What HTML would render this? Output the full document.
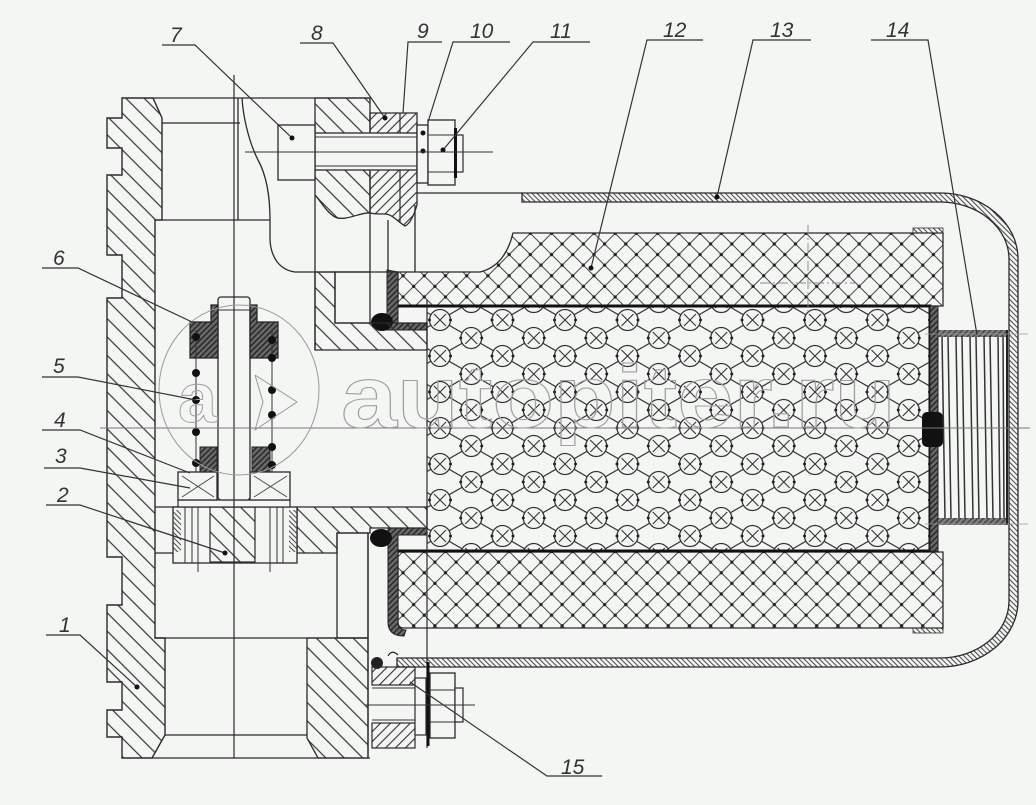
<!DOCTYPE html>
<html><head><meta charset="utf-8">
<style>
html,body{margin:0;padding:0;background:#f3f6f3;}
svg{display:block;}
text{font-family:"Liberation Sans",sans-serif;}
</style></head><body>
<svg width="1036" height="805" viewBox="0 0 1036 805" xmlns="http://www.w3.org/2000/svg">
<defs>
<pattern id="h1" width="13" height="13" patternUnits="userSpaceOnUse" patternTransform="rotate(-45)"><line x1="6.5" y1="0" x2="6.5" y2="13" stroke="#333" stroke-width="1.2"/></pattern>
<pattern id="h2" width="7" height="7" patternUnits="userSpaceOnUse" patternTransform="rotate(45)"><line x1="3.5" y1="0" x2="3.5" y2="7" stroke="#333" stroke-width="1.1"/></pattern>
<pattern id="h3" width="3.6" height="3.6" patternUnits="userSpaceOnUse" patternTransform="rotate(-45)"><line x1="1.8" y1="0" x2="1.8" y2="3.6" stroke="#444" stroke-width="1"/></pattern>
<pattern id="ch" width="15" height="15" patternUnits="userSpaceOnUse" patternTransform="rotate(45)"><path d="M0,0V15M15,0V15M0,0H15M0,15H15" stroke="#444" stroke-width="1"/><circle cx="0" cy="0" r="1.6" fill="#222"/><circle cx="15" cy="0" r="1.6" fill="#222"/><circle cx="0" cy="15" r="1.6" fill="#222"/><circle cx="15" cy="15" r="1.6" fill="#222"/></pattern>
<pattern id="dk" width="4" height="4" patternUnits="userSpaceOnUse" patternTransform="rotate(45)"><rect width="4" height="4" fill="#6a6a6a"/><line x1="2" y1="0" x2="2" y2="4" stroke="#222" stroke-width="1.4"/></pattern>
<pattern id="cg" x="440" y="320" width="62.5" height="36" patternUnits="userSpaceOnUse">
 <g stroke="#333" stroke-width="1.2" fill="none">
  <path d="M0,0L31.25,18M62.5,0L31.25,18M0,36L31.25,18M62.5,36L31.25,18"/>
 </g>
 <g stroke="#333" stroke-width="1.3" fill="#f3f6f3">
  <circle cx="0" cy="0" r="10.5"/><circle cx="62.5" cy="0" r="10.5"/><circle cx="0" cy="36" r="10.5"/><circle cx="62.5" cy="36" r="10.5"/><circle cx="31.25" cy="18" r="10.5"/>
 </g>
 <g stroke="#333" stroke-width="1.1">
  <path d="M-6,-6L6,6M-6,6L6,-6 M56.5,-6L68.5,6M56.5,6L68.5,-6 M-6,30L6,42M-6,42L6,30 M56.5,30L68.5,42M56.5,42L68.5,30 M25.25,12L37.25,24M25.25,24L37.25,12"/>
 </g>
 <g fill="#222"><circle cx="10.5" cy="0" r="1.5"/><circle cx="52" cy="0" r="1.5"/><circle cx="41.75" cy="18" r="1.5"/><circle cx="20.75" cy="18" r="1.5"/><circle cx="10.5" cy="36" r="1.5"/><circle cx="52" cy="36" r="1.5"/></g>
</pattern>
</defs>

<rect width="1036" height="805" fill="#f3f6f3"/>

<!-- ===== Canister shell (13) ===== -->
<path d="M522,193 L940,193 A78,66 0 0 1 1018,259 L1018,601 A78,66 0 0 1 940,667 L397,667 L397,658 L940,658 A69,57 0 0 0 1009,601 L1009,259 A69,57 0 0 0 940,202 L522,202 Z" fill="url(#h3)" stroke="#2a2a2a" stroke-width="1.3"/>

<!-- ===== Filter crosshatch blocks (12) ===== -->
<path d="M398,272 L480,272 Q505,266 513,233 L943,233 L943,306 L398,306 Z" fill="url(#ch)" stroke="#2a2a2a" stroke-width="1.3"/>
<path d="M398,552 L943,552 L943,628 L404,628 Q398,628 398,622 Z" fill="url(#ch)" stroke="#2a2a2a" stroke-width="1.3"/>
<rect x="913" y="228" width="30" height="5" fill="url(#h3)" stroke="#333" stroke-width="0.8"/>
<rect x="913" y="628" width="30" height="5" fill="url(#h3)" stroke="#333" stroke-width="0.8"/>

<!-- ===== Perforated tube (circles) ===== -->
<rect x="427" y="306" width="503" height="245" fill="url(#cg)"/>
<path d="M398,306 H930 V551 H398" fill="none" stroke="#111" stroke-width="3"/>
<rect x="930" y="306" width="8" height="245" fill="url(#dk)" stroke="#222" stroke-width="1"/>
<rect x="922" y="412" width="21" height="35" rx="5" fill="#111"/>

<!-- end caps -->
<path d="M387,270 V330 H427 V323 H398 V272 Z" fill="url(#dk)" stroke="#222" stroke-width="1"/>
<ellipse cx="382" cy="322" rx="11" ry="9" fill="#111"/>
<path d="M388,528 H427 V535 H398 V622 Q398,630 406,630 L404,636 Q388,636 388,622 Z" fill="url(#dk)" stroke="#222" stroke-width="1"/>
<ellipse cx="381" cy="538" rx="11" ry="9" fill="#111"/>

<!-- ===== Spring 14 ===== -->
<g fill="none" stroke="#333" stroke-width="1.5">
<path d="M942,336 L945,519 M948,336 L951,519"/>
<path d="M956,336 L959,519 M962,336 L965,519"/>
<path d="M970,336 L973,519 M976,336 L979,519"/>
<path d="M984,336 L987,519 M990,336 L993,519"/>
<path d="M998,336 L1000,519 M1003,336 L1004,519"/>
</g>
<rect x="938" y="330" width="70" height="7" fill="url(#dk)" opacity="0.85"/>
<rect x="938" y="518" width="70" height="7" fill="url(#dk)" opacity="0.85"/>
<line x1="1007" y1="330" x2="1007" y2="525" stroke="#222" stroke-width="2"/>
<line x1="925" y1="334" x2="1028" y2="334" stroke="#999" stroke-width="0.8"/>
<line x1="925" y1="524" x2="1028" y2="524" stroke="#999" stroke-width="0.8"/>

<!-- ===== Housing (1) ===== -->
<path d="M122,98 V118 H107 V148 H122 V175 H107 V255 H122 V298 H107 V557 H122 V605 H107 V682 H122 V710 H107 V737 H122 V758 H152 L165,735 V638 H155 V220 H162 V118 L153,98 Z" fill="url(#h1)" stroke="#2a2a2a" stroke-width="1.4"/>
<g stroke="#2a2a2a" stroke-width="1.3" fill="none">
<line x1="153" y1="98" x2="370" y2="98"/>
<line x1="162" y1="123" x2="240" y2="123"/>
<line x1="162" y1="220" x2="270" y2="220"/>
<line x1="238" y1="98" x2="238" y2="220"/>
<path d="M242,98 C243,115 248,140 258,160 C268,178 270,200 270,220 L270,240 C271,258 280,270 295,272 L398,272"/>
</g>

<!-- flange + bolt 7, parts 8-11 -->
<path d="M315,98 H370 V213 C360,212 345,222 335,217 C326,212 320,200 315,195 Z" fill="url(#h1)" stroke="#2a2a2a" stroke-width="1.3"/>
<path d="M370,113 H417 V205 C414,215 410,224 405,226 C398,222 392,214 385,214 C378,214 374,214 370,213 Z" fill="url(#h2)" stroke="#2a2a2a" stroke-width="1.3"/>
<line x1="400" y1="113" x2="400" y2="222" stroke="#2a2a2a" stroke-width="1.2"/>
<rect x="315" y="133" width="102" height="37" fill="#f3f6f3" stroke="#2a2a2a" stroke-width="1.3"/>
<line x1="315" y1="137" x2="417" y2="137" stroke="#333" stroke-width="1"/>
<line x1="315" y1="166" x2="417" y2="166" stroke="#333" stroke-width="1"/>
<rect x="278" y="125" width="37" height="55" fill="#f3f6f3" stroke="#2a2a2a" stroke-width="1.3"/>
<rect x="417" y="125" width="11" height="58" fill="#f3f6f3" stroke="#2a2a2a" stroke-width="1.3"/>
<rect x="428" y="120" width="27" height="65" fill="#f3f6f3" stroke="#2a2a2a" stroke-width="1.3"/>
<line x1="428" y1="135" x2="455" y2="135" stroke="#333"/>
<line x1="428" y1="172" x2="455" y2="172" stroke="#333"/>
<rect x="455" y="135" width="8" height="37" fill="#f3f6f3" stroke="#2a2a2a" stroke-width="1.2"/>
<rect x="454" y="128" width="3" height="50" fill="#111"/>
<circle cx="423" cy="133" r="2.5" fill="#111"/><circle cx="423" cy="151" r="2.5" fill="#111"/>
<line x1="245" y1="152" x2="493" y2="152" stroke="#333" stroke-width="1"/>

<g stroke="#2a2a2a" stroke-width="1.3" fill="none">
<line x1="315" y1="195" x2="315" y2="350"/>
<line x1="370" y1="213" x2="370" y2="272"/>
<line x1="388" y1="220" x2="388" y2="272"/>
<line x1="415" y1="205" x2="415" y2="272"/>
<line x1="417" y1="193" x2="522" y2="193"/>
</g>

<!-- upper right hatched housing -->
<path d="M315,272 H335 V323 H427 V350 H315 Z" fill="url(#h1)" stroke="#2a2a2a" stroke-width="1.3"/>
<rect x="335" y="272" width="35" height="51" fill="none" stroke="#2a2a2a" stroke-width="1.3"/>

<!-- floor hatched -->
<path d="M297,507 H427 V528 H370 V533 H337 V553 H297 Z" fill="url(#h1)" stroke="#2a2a2a" stroke-width="1.3"/>
<rect x="337" y="533" width="31" height="105" fill="none" stroke="#2a2a2a" stroke-width="1.3"/>
<path d="M307,638 H368 V758 H318 L307,738 Z" fill="url(#h1)" stroke="#2a2a2a" stroke-width="1.3"/>
<g stroke="#2a2a2a" stroke-width="1.3" fill="none">
<line x1="155" y1="638" x2="368" y2="638"/>
<line x1="368" y1="533" x2="368" y2="758"/>
<line x1="152" y1="758" x2="370" y2="758"/>
<line x1="165" y1="735" x2="307" y2="735"/>
<line x1="155" y1="553" x2="173" y2="553"/>
<line x1="155" y1="507" x2="178" y2="507"/>
</g>

<!-- ===== Valve assembly (2-6) ===== -->
<rect x="173" y="507" width="124" height="56" fill="#f3f6f3" stroke="#2a2a2a" stroke-width="1.3"/>
<rect x="210" y="507" width="45" height="55" fill="url(#h1)" stroke="#2a2a2a" stroke-width="1.2"/>
<rect x="173" y="510" width="8" height="42" fill="url(#h3)"/>
<rect x="289" y="510" width="8" height="42" fill="url(#h3)"/>
<g stroke="#333" stroke-width="1">
<line x1="185" y1="507" x2="185" y2="563"/><line x1="192" y1="507" x2="192" y2="563"/><line x1="198" y1="490" x2="198" y2="572"/>
<line x1="270" y1="490" x2="270" y2="572"/><line x1="277" y1="507" x2="277" y2="563"/><line x1="283" y1="507" x2="283" y2="563"/>
</g>
<rect x="178" y="500" width="112" height="7" fill="#f3f6f3" stroke="#2a2a2a" stroke-width="1.2"/>
<rect x="178" y="472" width="39" height="28" fill="#f3f6f3" stroke="#2a2a2a" stroke-width="1.3"/>
<rect x="250" y="472" width="40" height="28" fill="#f3f6f3" stroke="#2a2a2a" stroke-width="1.3"/>
<path d="M182,476L214,497M182,497L214,476M254,476L287,497M254,497L287,476" stroke="#444" stroke-width="0.9"/>
<rect x="218" y="297" width="32" height="203" rx="3" fill="#f3f6f3" stroke="#2a2a2a" stroke-width="1.3"/>
<line x1="218" y1="310" x2="250" y2="310" stroke="#333"/>
<rect x="200" y="447" width="17" height="25" fill="url(#dk)" stroke="#222"/>
<rect x="252" y="447" width="18" height="25" fill="url(#dk)" stroke="#222"/>
<path d="M190,322 H211 V305 H218 V358 H190 Z" fill="url(#dk)" stroke="#222" stroke-width="1.2"/>
<path d="M250,305 H257 V322 H278 V358 H250 Z" fill="url(#dk)" stroke="#222" stroke-width="1.2"/>
<g stroke="#333" stroke-width="1"><line x1="196" y1="330" x2="196" y2="472"/><line x1="272" y1="330" x2="272" y2="472"/></g>
<g fill="#111">
<circle cx="196" cy="337" r="4"/><circle cx="196" cy="373" r="4"/><circle cx="196" cy="400" r="4"/><circle cx="196" cy="432" r="4"/><circle cx="196" cy="463" r="4"/>
<circle cx="272" cy="340" r="4"/><circle cx="272" cy="358" r="4"/><circle cx="272" cy="390" r="4"/><circle cx="272" cy="415" r="4"/><circle cx="272" cy="447" r="4"/><circle cx="272" cy="465" r="4"/>
</g>

<!-- long lines -->
<line x1="234" y1="75" x2="234" y2="758" stroke="#2a2a2a" stroke-width="1.2"/>
<line x1="427" y1="300" x2="427" y2="748" stroke="#2a2a2a" stroke-width="1.2"/>
<line x1="100" y1="428" x2="1030" y2="428" stroke="#777" stroke-width="1"/>
<line x1="808" y1="225" x2="808" y2="315" stroke="#888" stroke-width="0.9" stroke-dasharray="10 3 2 3"/>
<line x1="760" y1="283" x2="855" y2="283" stroke="#888" stroke-width="0.9" stroke-dasharray="10 3 2 3"/>

<!-- bottom bolt 15 -->
<circle cx="377" cy="663" r="6" fill="#222"/>
<path d="M388,656 Q392,649 398,655" fill="none" stroke="#222" stroke-width="1.2"/>
<rect x="372" y="667" width="43" height="18" fill="url(#h2)" stroke="#2a2a2a" stroke-width="1.2"/>
<rect x="372" y="723" width="43" height="25" fill="url(#h2)" stroke="#2a2a2a" stroke-width="1.2"/>
<line x1="372" y1="688" x2="415" y2="688" stroke="#333"/>
<line x1="372" y1="720" x2="415" y2="720" stroke="#333"/>
<rect x="415" y="678" width="11" height="57" fill="#f3f6f3" stroke="#2a2a2a" stroke-width="1.2"/>
<line x1="428" y1="662" x2="428" y2="746" stroke="#111" stroke-width="3"/>
<rect x="430" y="673" width="25" height="65" fill="#f3f6f3" stroke="#2a2a2a" stroke-width="1.3"/>
<line x1="430" y1="690" x2="455" y2="690" stroke="#333"/>
<line x1="430" y1="722" x2="455" y2="722" stroke="#333"/>
<rect x="455" y="688" width="8" height="34" fill="#f3f6f3" stroke="#2a2a2a" stroke-width="1.2"/>
<line x1="365" y1="705" x2="475" y2="705" stroke="#333" stroke-width="1"/>

<!-- watermark -->
<g fill="none" stroke="#9a9a9a" stroke-width="1">
<ellipse cx="239" cy="390" rx="80" ry="85"/>
<polyline points="255,375 297,402 255,430 263,402 255,375"/>
</g>
<text x="178" y="422" font-size="70" font-weight="bold" fill="none" stroke="#a0a0a0" stroke-width="1">a</text>
<text x="341" y="427" font-size="88" font-weight="bold" fill="none" stroke="#a0a0a0" stroke-width="1.1" textLength="555" lengthAdjust="spacingAndGlyphs">autopiter.ru</text>

<!-- ===== Leaders ===== -->
<g stroke="#333" stroke-width="1.2" fill="none">
<path d="M162,45H195L292,138"/>
<path d="M300,43H333L385,118"/>
<path d="M442,42H408L403,113"/>
<path d="M510,42H453L428,122"/>
<path d="M590,42H533L443,150"/>
<path d="M703,40H647L591,268"/>
<path d="M811,40H753L717,197"/>
<path d="M871,40H928L977,335"/>
<path d="M42,268H78L192,322"/>
<path d="M42,377H78L196,400"/>
<path d="M42,430H80L190,473"/>
<path d="M44,468H80L190,488"/>
<path d="M46,505H80L225,553"/>
<path d="M46,635H80L137,687"/>
<path d="M602,776H547L410,682"/>
</g>
<g fill="#111">
<circle cx="292" cy="138" r="2.5"/><circle cx="385" cy="118" r="2.5"/><circle cx="591" cy="268" r="2.5"/><circle cx="717" cy="197" r="2.5"/><circle cx="443" cy="150" r="2.5"/><circle cx="225" cy="553" r="2.5"/><circle cx="137" cy="687" r="2.5"/>
</g>

<!-- ===== Labels ===== -->
<g font-size="21" font-style="italic" fill="#333">
<text x="170" y="42">7</text>
<text x="311" y="40">8</text>
<text x="417" y="38">9</text>
<text x="470" y="38">10</text>
<text x="550" y="38">11</text>
<text x="663" y="37">12</text>
<text x="770" y="37">13</text>
<text x="886" y="37">14</text>
<text x="53" y="265">6</text>
<text x="53" y="373">5</text>
<text x="54" y="427">4</text>
<text x="55" y="463">3</text>
<text x="57" y="502">2</text>
<text x="59" y="632">1</text>
<text x="561" y="774">15</text>
</g>
</svg>
</body></html>
